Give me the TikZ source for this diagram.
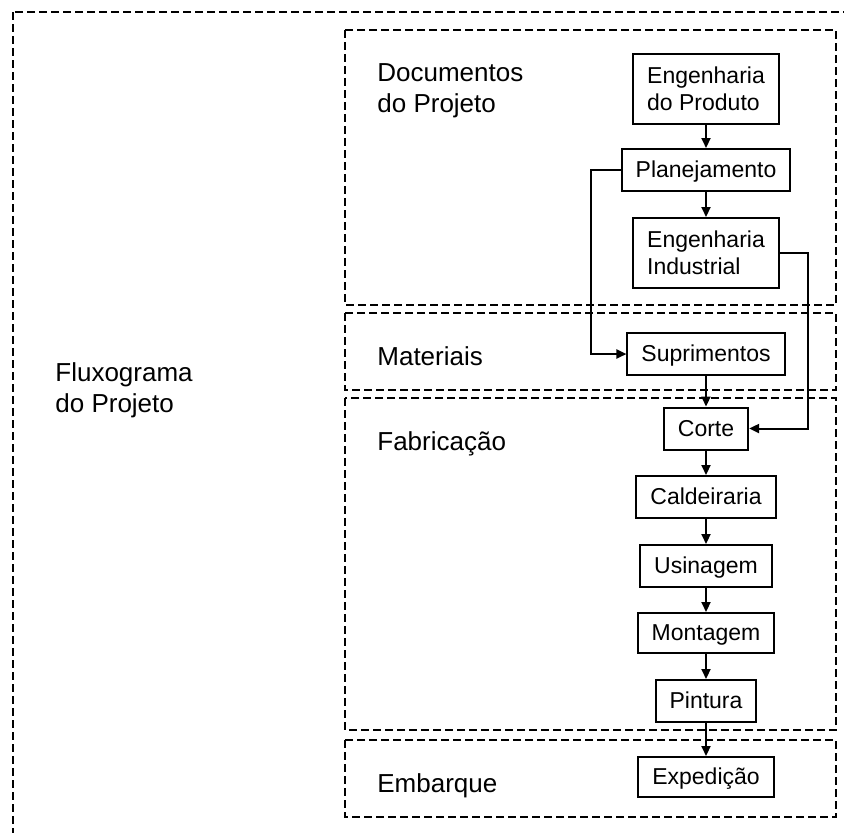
\documentclass[tikz,border=0pt]{standalone}
\usepackage{fontspec}
\setmainfont{Liberation Sans}
\usetikzlibrary{arrows.meta}

\begin{document}
\begin{tikzpicture}[x=0.5pt,y=-0.5pt,
		etapa/.style={draw,line width=1pt,inner xsep=7pt,inner ysep=0pt,minimum height=21pt,align=left,font=\fontsize{11.5}{13.5}\selectfont},
		unica/.style={text height=8.6pt,text depth=1pt},
		area/.style={line width=0.8pt,dash pattern=on 4pt off 2pt},
		rotulo/.style={anchor=base west,inner sep=0pt,align=left,font=\fontsize{13}{15.5}\selectfont},
		seta/.style={line width=1pt,-{Triangle[length=5pt,width=4.5pt]}}]
		\useasboundingbox (0,0) rectangle (844,832);
		\clip (0,0) rectangle (844,832);
		% areas
		\draw[area] (13,12) rectangle (852,852);
		\draw[area] (345,30) rectangle (836,305);
		\draw[area] (345,313) rectangle (836,390);
		\draw[area] (345,398) rectangle (836,730);
		\draw[area] (345,740) rectangle (836,817);
		% rotulos (base = ultima linha)
		\node[rotulo] (fluxo) at (55,412) {Fluxograma\\do Projeto};
		\node[rotulo] (docs) at (377,112) {Documentos\\do Projeto};
		\node[rotulo] (mat) at (377,365) {Materiais};
		\node[rotulo] (fab) at (377,450) {Fabricação};
		\node[rotulo] (emb) at (377,792) {Embarque};
		% etapas
		\node[etapa,minimum height=35pt] (engprod) at (706,89) {Engenharia\\do Produto};
		\node[etapa,unica] (plan) at (706,170) {Planejamento};
		\node[etapa,minimum height=35pt] (engind) at (706,253) {Engenharia\\Industrial};
		\node[etapa,unica] (supr) at (706,354) {Suprimentos};
		\node[etapa,unica] (corte) at (706,428.5) {Corte};
		\node[etapa,unica] (cald) at (706,497) {Caldeiraria};
		\node[etapa,unica] (usin) at (706,566) {Usinagem};
		\node[etapa,unica,minimum height=20pt] (mont) at (706,633) {Montagem};
		\node[etapa,unica] (pint) at (706,701) {Pintura};
		\node[etapa,unica,minimum height=20pt] (exped) at (706,777) {Expedição};
		\coordinate (desvioA) at (591,0);
		\coordinate (desvioB) at (808,0);
		% ligacoes
		\foreach \a/\b in {engprod/plan,plan/engind,supr/corte,corte/cald,cald/usin,usin/mont,mont/pint,pint/exped}
			\draw[seta] (\a) -- (\b);
		\draw[seta] (plan.west) -- (plan.west -| desvioA) |- (supr.west);
		\draw[seta] (engind.east) -- (engind.east -| desvioB) |- (corte.east);
\end{tikzpicture}
\end{document}
